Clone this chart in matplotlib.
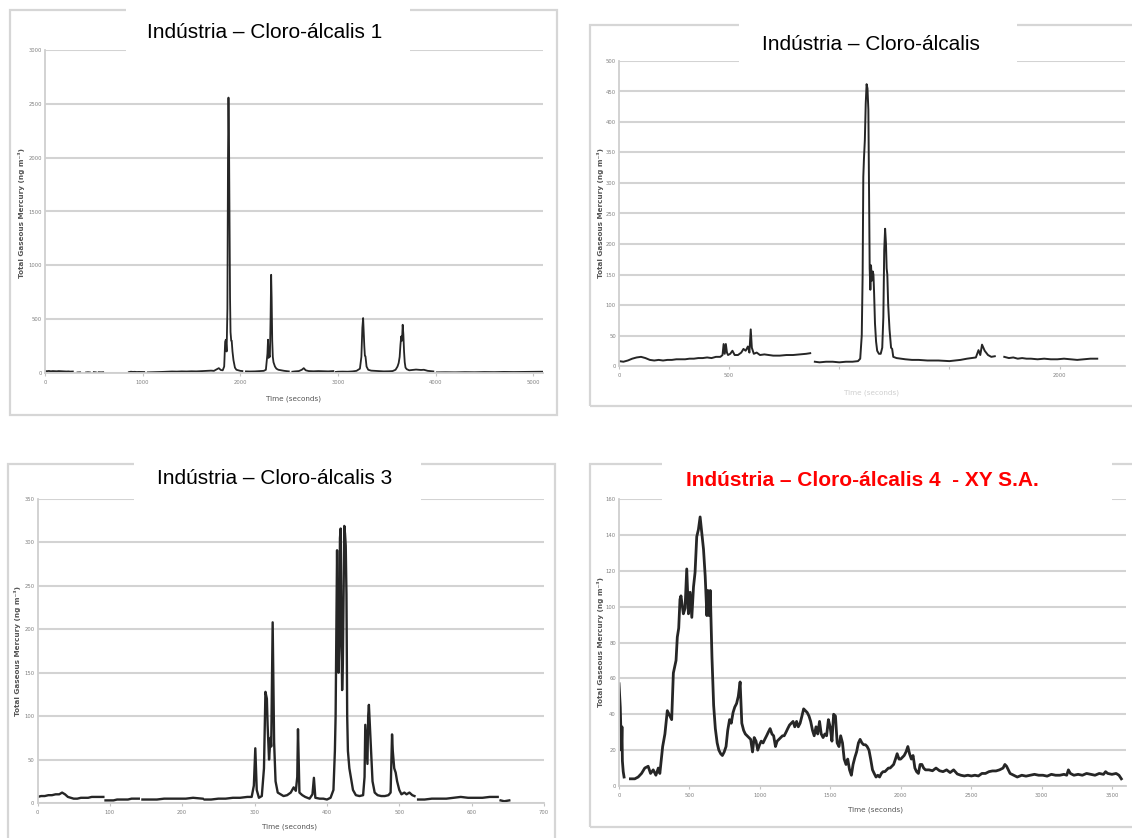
import numpy as np
import matplotlib
matplotlib.use("Agg")
import matplotlib.pyplot as plt
from matplotlib.patches import Rectangle

nan = np.nan

# ---------------- data ----------------
titles = ["Indústria – Cloro-álcalis 1", "Indústria – Cloro-álcalis",
          "Indústria – Cloro-álcalis 3", "Indústria – Cloro-álcalis 4  - XY S.A."]
ylabel_text = "Total Gaseous Mercury (ng m⁻³)"
xlabel_text = "Time (seconds)"

p1_time = [0, 20, 40, 60, 80, 100, 120, 140, 160, 180, 200, 220, 240, 260, 285, 300,
           333, 360, 380, 420, 440, 460, 480, 500, 520, 535, 550, 575, 596, 610,
           859, 880, 900, 920, 940, 960, 1016, 1030,
           1053, 1100, 1150, 1200, 1250, 1300, 1350, 1400, 1450, 1500, 1550, 1600, 1650, 1700,
           1730, 1760, 1780, 1800, 1820, 1835, 1845, 1852, 1860, 1868, 1874, 1879, 1885, 1890,
           1895, 1900, 1907, 1912, 1920, 1930, 1945, 1960, 1980, 2000, 2021, 2040,
           2058, 2100, 2150, 2200, 2240, 2262, 2278, 2284, 2290, 2296, 2303, 2310, 2316, 2321,
           2327, 2333, 2340, 2355, 2370, 2390, 2420, 2450, 2497, 2515,
           2533, 2560, 2600, 2630, 2650, 2670, 2700, 2750, 2800, 2850, 2900, 2953, 2966,
           2979, 3000, 3050, 3100, 3150, 3190, 3225, 3240, 3250, 3258, 3264, 3270, 3276, 3282,
           3293, 3310, 3340, 3380, 3420, 3470, 3520, 3560, 3590, 3610, 3622, 3632, 3640, 3648,
           3656, 3663, 3670, 3677, 3684, 3692, 3705, 3730, 3760, 3800, 3850, 3880, 3920, 3977, 3995,
           4013, 4100, 4200, 4300, 4400, 4500, 4600, 4700, 4800, 4900, 5000, 5091]
p1_val = [18, 17, 19, 16, 18, 17, 16, 18, 17, 15, 16, 14, 15, 13, 14, nan,
          5, 6, nan, 5, 7, 5, nan, 8, 6, nan, 7, 6, 7, nan,
          8, 12, 10, 11, 9, 10, 9, nan,
          6, 7, 8, 10, 12, 14, 13, 15, 14, 16, 15, 17, 18, 22,
          20, 35, 45, 28, 25, 60, 290, 309, 200, 600, 2000, 2558, 2100, 1400,
          700, 380, 300, 300, 200, 120, 50, 30, 25, 20, 18, nan,
          15, 14, 15, 18, 20, 30, 180, 309, 140, 160, 150, 500, 912, 700,
          300, 150, 100, 60, 40, 30, 25, 20, 15, nan,
          12, 15, 18, 30, 45, 25, 18, 16, 18, 16, 15, 18, nan,
          10, 12, 13, 12, 15, 20, 40, 150, 420, 510, 380, 250, 160, 155,
          60, 30, 22, 20, 18, 15, 16, 18, 30, 60, 93, 150, 260, 340,
          300, 448, 360, 200, 100, 50, 35, 25, 28, 32, 28, 30, 20, 15, nan,
          6, 7, 6, 8, 7, 9, 8, 10, 9, 10, 11, 12]

p2_time = [0, 20, 40, 60, 80, 100, 120, 140, 160, 180, 200, 220, 240, 260, 280, 300, 320,
           340, 360, 380, 400, 420, 440, 460, 470, 475, 480, 485, 490, 495, 505, 515, 525,
           540, 555, 565, 575, 585, 592, 598, 603, 612, 625, 640, 660, 680, 700, 730, 760,
           790, 820, 850, 868, 878,
           889, 910, 940, 970, 1000, 1030, 1060, 1085, 1095, 1102, 1106, 1109, 1112, 1116,
           1120, 1124, 1128, 1132, 1135, 1138, 1141, 1144, 1148, 1152, 1155, 1158, 1162,
           1167, 1172, 1180, 1188, 1195, 1200, 1204, 1208, 1212, 1215, 1218, 1222, 1228,
           1235, 1240, 1245, 1260, 1280, 1300, 1330, 1360, 1400, 1450, 1500, 1550, 1580,
           1600, 1620, 1632, 1640, 1648, 1660, 1675, 1690, 1706, 1720,
           1749, 1770, 1790, 1810, 1830, 1850, 1870, 1900, 1930, 1960, 1990, 2020, 2050,
           2080, 2110, 2140, 2171]
p2_val = [8, 7, 9, 12, 14, 15, 13, 10, 9, 10, 9, 10, 10, 11, 11, 11, 12,
          12, 13, 13, 14, 13, 15, 15, 18, 36, 20, 36, 22, 18, 20, 25, 18,
          18, 22, 28, 25, 32, 22, 60, 30, 20, 22, 18, 19, 18, 17, 17, 18,
          18, 19, 20, 21, nan,
          7, 6, 7, 7, 6, 7, 7, 8, 12, 50, 150, 310, 340, 370,
          430, 462, 455, 420, 300, 160, 125, 165, 140, 155, 150, 120, 70,
          40, 25, 20, 20, 30, 80, 190, 225, 200, 160, 150, 100, 60,
          30, 28, 15, 13, 12, 11, 10, 10, 9, 9, 8, 10, 12,
          13, 14, 26, 18, 35, 25, 18, 15, 16, nan,
          15, 13, 14, 12, 13, 12, 12, 11, 12, 11, 11, 12, 11,
          10, 11, 12, 12]

p3_time = [0, 5, 10, 15, 20, 25, 30, 34, 38, 42, 46, 50, 55, 60, 65, 70, 75, 80, 85, 91, 92,
           94, 100, 105, 110, 115, 120, 125, 130, 135, 140, 142,
           145, 155, 165, 175, 185, 195, 205, 215, 228, 229,
           231, 240, 250, 260, 270, 280, 290, 296, 299, 301, 303, 306, 310, 313, 315, 317,
           318, 320, 322, 323, 325, 327, 329, 332, 336, 340, 345, 350, 354, 357, 359, 360,
           362, 366, 370, 376, 380, 382, 384, 390, 395, 400, 405, 409, 411, 412, 414, 415,
           416, 417, 418, 419, 420, 421, 422, 423, 424, 425, 426, 427, 428, 429, 431, 433,
           436, 440, 445, 450, 452, 453, 455, 456, 457, 458, 459, 461, 463, 466, 470, 475,
           480, 485, 488, 490, 491, 493, 495, 497, 500, 503, 507, 510, 514, 518, 521, 523,
           526, 535, 545, 555, 565, 575, 585, 595, 605, 615, 625, 636, 638,
           640, 645, 652]
p3_val = [7, 8, 8, 9, 9, 10, 10, 12, 10, 7, 6, 5, 5, 6, 6, 6, 7, 7, 7, 7, nan,
          3, 3, 3, 4, 4, 4, 4, 5, 5, 5, nan,
          4, 4, 4, 5, 5, 5, 5, 6, 5, nan,
          4, 4, 5, 5, 6, 6, 7, 7, 20, 63, 15, 6, 8, 40, 128, 120,
          90, 50, 75, 65, 208, 70, 25, 12, 10, 8, 9, 12, 18, 14, 30, 85,
          12, 9, 7, 5, 10, 29, 6, 5, 5, 4, 6, 15, 60, 100, 291, 200,
          150, 180, 305, 316, 200, 130, 160, 240, 319, 310, 296, 240, 100, 60, 40, 30,
          15, 9, 8, 9, 30, 90, 60, 45, 100, 113, 95, 60, 25, 12, 9, 8,
          8, 9, 12, 79, 60, 40, 35, 25, 15, 10, 12, 10, 12, 9, 8, nan,
          4, 4, 5, 5, 5, 6, 7, 6, 6, 6, 7, 7, nan,
          3, 2, 3]

p4_time = [0, 9, 17, 21, 24, 30, 36, 50,
           81, 112, 136, 160, 183, 207, 224, 243, 262, 279, 290, 310, 326, 343, 362, 374,
           386, 405, 414, 424, 433, 440, 457, 469, 481, 493, 505, 517, 529, 540, 552, 564,
           576, 588, 600, 612, 624, 631, 640, 648, 660, 672, 684, 697, 709, 722, 734, 747,
           760, 772, 785, 797, 810, 822, 835, 847, 860, 872, 885, 897, 910, 923, 935, 948,
           960, 973, 985, 998, 1010, 1023, 1035, 1048, 1060, 1073, 1086, 1098, 1111, 1123,
           1136, 1148, 1161, 1173, 1186, 1198, 1211, 1223, 1236, 1248, 1261, 1273, 1286,
           1299, 1311, 1324, 1336, 1349, 1361, 1374, 1386, 1399, 1411, 1424, 1436, 1449,
           1462, 1474, 1487, 1499, 1512, 1524, 1537, 1549, 1562, 1574, 1587, 1599, 1612,
           1624, 1637, 1650, 1662, 1675, 1687, 1700, 1712, 1725, 1737, 1750, 1762, 1775,
           1787, 1800, 1812, 1825, 1838, 1850, 1863, 1875, 1888, 1900, 1913, 1925, 1938,
           1950, 1963, 1975, 1988, 2000, 2013, 2025, 2038, 2051, 2063, 2076, 2088, 2101,
           2113, 2126, 2138, 2151, 2163, 2176, 2201, 2226, 2251, 2276, 2301, 2326, 2351,
           2376, 2402, 2427, 2452, 2477, 2502, 2527, 2552, 2577, 2602, 2627, 2652, 2677,
           2702, 2727, 2740, 2752, 2777, 2803, 2828, 2860, 2890, 2920, 2950, 2980, 3010,
           3040, 3070, 3100, 3130, 3160, 3179, 3191, 3205, 3230, 3260, 3290, 3320, 3350,
           3380, 3410, 3440, 3455, 3470, 3500, 3530, 3550, 3567]
p4_val = [57, 44, 20, 33, 14, 8, 5, nan,
          4, 4, 5, 7, 10, 11, 7, 9, 6, 10, 7, 22, 29, 42, 39, 37,
          63, 70, 83, 88, 104, 106, 96, 99, 121, 96, 108, 94, 111, 119, 139, 143,
          150, 141, 132, 117, 95, 109, 95, 109, 72, 45, 32, 24, 20, 18, 17, 19,
          22, 31, 37, 35, 41, 44, 46, 50, 58, 35, 31, 29, 28, 27, 26, 19,
          27, 25, 20, 23, 25, 24, 26, 28, 30, 32, 29, 28, 22, 25,
          26, 27, 28, 28, 30, 32, 34, 35, 36, 33, 36, 33, 35,
          39, 43, 42, 41, 39, 36, 31, 28, 33, 29, 36, 29, 27,
          29, 28, 37, 33, 25, 40, 39, 24, 22, 28, 24, 15, 12,
          15, 9, 6, 12, 16, 19, 24, 26, 24, 23, 23, 22, 20,
          15, 9, 7, 5, 6, 5, 7, 8, 8, 9, 10, 10, 11,
          12, 15, 18, 15, 15, 16, 17, 19, 22, 18, 15, 17, 10,
          8, 7, 12, 12, 10, 9, 9, 8.5, 10, 8.5, 8, 9, 7.5,
          9, 6.7, 6, 5.6, 6, 5.6, 6, 5.6, 7, 7, 8, 8.4, 8.4,
          9, 10, 12, 11, 7, 6, 5, 6, 5.5, 6, 6.5, 6, 6,
          5.5, 6.5, 6, 6, 6.5, 6, 9, 7, 6, 6.5, 6, 7, 6.5,
          6, 7, 6.5, 8, 7, 6.5, 7, 6, 4]

# ---------------- layout helpers ----------------
W, H = 1132, 838
fig = plt.figure(figsize=(W / 100, H / 100), dpi=100)
fig.patch.set_facecolor("white")

GRID = "#d3d3d3"
LINE = "#262626"
TXT = "#555555"


def fx(px):
    return px / W


def fy(py):
    return 1 - py / H


def add_rect(x0, y0, x1, y1, **kw):
    r = Rectangle((fx(x0), fy(y1)), fx(x1) - fx(x0), fy(y0) - fy(y1),
                  transform=fig.transFigure, **kw)
    fig.patches.append(r)
    return r


def make_panel(box, border, tbox, title, tpos, tkw, t, v, xlim, ylim, yticks, xticks,
               xticklabels, ylab_pos, xlab_pos, xlab_color, lw):
    x0, y0, x1, y1 = box
    add_rect(*border, facecolor="none", edgecolor="#d6d6d6", linewidth=1.6, zorder=0)
    ax = fig.add_axes([fx(x0), fy(y1), fx(x1) - fx(x0), fy(y0) - fy(y1)])
    ax.set_facecolor("none")
    ax.plot(t, v, color=LINE, linewidth=lw, solid_joinstyle="round")
    ax.set_xlim(*xlim)
    ax.set_ylim(*ylim)
    ax.set_yticks(yticks)
    ax.set_xticks(xticks)
    ax.set_xticklabels(xticklabels)
    ax.grid(axis="y", color=GRID, linewidth=1.5)
    ax.set_axisbelow(True)
    for s in ["top", "right"]:
        ax.spines[s].set_visible(False)
    for s in ["left", "bottom"]:
        ax.spines[s].set_color("#cfcfcf")
        ax.spines[s].set_linewidth(1.3)
    ax.tick_params(axis="x", labelsize=3.8, labelcolor="#808080", color="#c4c4c4",
                   length=2.5, width=0.8, pad=2.5)
    ax.tick_params(axis="y", labelsize=3.8, labelcolor="#808080", length=0, pad=2.2)
    # white title box and title
    add_rect(*tbox, facecolor="white", edgecolor="none", zorder=5)
    fig.text(fx(tpos[0]), fy(tpos[1]), title, ha="center", va="center", zorder=6, **tkw)
    fig.text(fx(ylab_pos[0]), fy(ylab_pos[1]), ylabel_text, rotation=90, ha="center",
             va="center", fontsize=5.2, fontweight="bold", color=TXT, zorder=6)
    fig.text(fx(xlab_pos[0]), fy(xlab_pos[1]), xlabel_text, ha="center", va="center",
             fontsize=5.2, color=xlab_color, zorder=6)
    return ax


title_kw = dict(fontsize=15, family="Liberation Sans", color="black")
title_kw_red = dict(fontsize=15, family="Liberation Sans", color="#ff0000", fontweight="bold")

# Panel 1
make_panel(box=(45, 50, 543, 373), border=(10, 10, 557, 415), tbox=(126, 4, 410, 56),
           title=titles[0], tpos=(265, 32), tkw=title_kw, t=p1_time, v=p1_val,
           xlim=(0, 5100), ylim=(0, 3000), yticks=np.arange(0, 3001, 500),
           xticks=[0, 1000, 2000, 3000, 4000, 5000],
           xticklabels=["0", "1000", "2000", "3000", "4000", "5000"],
           ylab_pos=(22, 213), xlab_pos=(293, 399), xlab_color=TXT, lw=1.3)

# Panel 2
make_panel(box=(619, 61, 1125, 366), border=(590, 25, 1145, 406), tbox=(739, 18, 1017, 67),
           title=titles[1], tpos=(871, 45), tkw=title_kw, t=p2_time, v=p2_val,
           xlim=(0, 2297), ylim=(0, 500), yticks=np.arange(0, 501, 50),
           xticks=[0, 500, 1000, 1500, 2000],
           xticklabels=["0", "500", "", "", "2000"],
           ylab_pos=(600, 213), xlab_pos=(871, 393), xlab_color="#cfcfcf", lw=1.4)

# Panel 3
make_panel(box=(37.5, 499, 544, 803), border=(8, 464, 555, 860), tbox=(134, 458, 421, 505),
           title=titles[2], tpos=(275, 478), tkw=title_kw, t=p3_time, v=p3_val,
           xlim=(0, 700), ylim=(0, 350), yticks=np.arange(0, 351, 50),
           xticks=np.arange(0, 701, 100),
           xticklabels=[str(x) for x in range(0, 701, 100)],
           ylab_pos=(18, 651), xlab_pos=(290, 827), xlab_color=TXT, lw=1.7)

# Panel 4
make_panel(box=(619, 499, 1126, 786), border=(590, 464, 1145, 827), tbox=(662, 458, 1112, 505),
           title=titles[3], tpos=(862, 480), tkw=title_kw_red, t=p4_time, v=p4_val,
           xlim=(0, 3600), ylim=(0, 160), yticks=np.arange(0, 161, 20),
           xticks=np.arange(0, 3501, 500),
           xticklabels=[str(x) for x in range(0, 3501, 500)],
           ylab_pos=(600, 642), xlab_pos=(875, 810), xlab_color=TXT, lw=2.0)

fig.savefig("out.png", dpi=100, facecolor="white")
